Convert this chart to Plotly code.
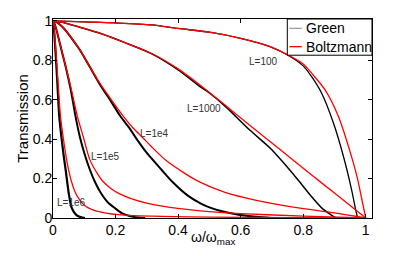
import plotly.graph_objects as go

# ---------------- data ----------------
w_green_100 = [0, 0.1, 0.2, 0.316, 0.4, 0.5, 0.6, 0.694, 0.758, 0.8, 0.827, 0.859, 0.897, 0.929, 0.955, 0.968, 0.974]
T_green_100 = [1, 0.995, 0.99, 0.98, 0.962, 0.943, 0.912, 0.870, 0.82, 0.772, 0.717, 0.633, 0.481, 0.311, 0.142, 0.04, 0.0]
w_boltz_100 = [0, 0.1, 0.2, 0.316, 0.4, 0.5, 0.6, 0.694, 0.758, 0.8, 0.827, 0.870, 0.913, 0.945, 0.972, 0.988, 1.0]
T_boltz_100 = [1, 0.995, 0.99, 0.98, 0.962, 0.943, 0.912, 0.870, 0.822, 0.782, 0.735, 0.65, 0.514, 0.362, 0.21, 0.091, 0.0]

w_green_1000 = [0, 0.03, 0.06, 0.1, 0.155, 0.23, 0.316, 0.4, 0.47, 0.502, 0.55, 0.63, 0.694, 0.74, 0.785, 0.827, 0.86, 0.89, 0.905]
T_green_1000 = [1, 0.993, 0.98, 0.962, 0.935, 0.89, 0.833, 0.752, 0.667, 0.632, 0.568, 0.445, 0.355, 0.275, 0.19, 0.108, 0.05, 0.015, 0.0]
w_boltz_1000 = [0, 0.03, 0.06, 0.1, 0.155, 0.23, 0.316, 0.4, 0.47, 0.55, 0.63, 0.72, 0.827, 0.9, 1.0]
T_boltz_1000 = [1, 0.993, 0.98, 0.962, 0.935, 0.89, 0.835, 0.757, 0.675, 0.573, 0.47, 0.355, 0.218, 0.127, 0.0]

w_green_1e4 = [0, 0.01, 0.02, 0.035, 0.049, 0.086, 0.118, 0.15, 0.1875, 0.214, 0.245, 0.27, 0.3, 0.347, 0.384, 0.43, 0.47, 0.5, 0.55, 0.598, 0.65, 0.7]
T_green_1e4 = [1, 0.996, 0.985, 0.962, 0.935, 0.853, 0.766, 0.678, 0.587, 0.52, 0.455, 0.395, 0.33, 0.245, 0.18, 0.115, 0.076, 0.054, 0.03, 0.015, 0.006, 0.0]
w_boltz_1e4 = [0, 0.01, 0.02, 0.035, 0.049, 0.086, 0.118, 0.15, 0.1875, 0.225, 0.256, 0.288, 0.316, 0.363, 0.42, 0.47, 0.55, 0.65, 0.79, 0.9, 1.0]
T_boltz_1e4 = [1, 0.996, 0.985, 0.962, 0.935, 0.853, 0.768, 0.683, 0.598, 0.516, 0.457, 0.406, 0.36, 0.29, 0.228, 0.182, 0.13, 0.09, 0.05, 0.026, 0.0]

w_green_1e5 = [0, 0.005, 0.011, 0.027, 0.043, 0.057, 0.072, 0.086, 0.1, 0.118, 0.135, 0.155, 0.175, 0.198, 0.22, 0.245, 0.27, 0.295]
T_green_1e5 = [1, 0.985, 0.955, 0.853, 0.751, 0.649, 0.516, 0.411, 0.33, 0.245, 0.18, 0.122, 0.08, 0.05, 0.025, 0.01, 0.003, 0.0]
w_boltz_1e5 = [0, 0.005, 0.012, 0.027, 0.043, 0.059, 0.078, 0.097, 0.118, 0.14, 0.16, 0.185, 0.21, 0.25, 0.3, 0.35, 0.42, 0.5, 0.6, 0.8, 1.0]
T_boltz_1e5 = [1, 0.985, 0.95, 0.855, 0.755, 0.65, 0.516, 0.411, 0.295, 0.23, 0.185, 0.15, 0.125, 0.098, 0.075, 0.06, 0.045, 0.032, 0.022, 0.01, 0.0]

w_green_1e6 = [0, 0.002, 0.004, 0.009, 0.014, 0.02, 0.027, 0.033, 0.04, 0.046, 0.052, 0.059, 0.067, 0.075, 0.085, 0.095, 0.102]
T_green_1e6 = [1, 0.98, 0.94, 0.82, 0.683, 0.516, 0.411, 0.33, 0.25, 0.175, 0.11, 0.055, 0.03, 0.015, 0.006, 0.002, 0.0]
w_boltz_1e6 = [0, 0.002, 0.005, 0.01, 0.016, 0.024, 0.033, 0.04, 0.049, 0.059, 0.07, 0.081, 0.095, 0.11, 0.134, 0.17, 0.209, 0.26, 0.347, 0.5, 0.75, 1.0]
T_boltz_1e6 = [1, 0.985, 0.94, 0.83, 0.69, 0.515, 0.405, 0.33, 0.25, 0.185, 0.135, 0.102, 0.073, 0.054, 0.037, 0.025, 0.017, 0.012, 0.008, 0.004, 0.002, 0.0]

curve_labels = ["L=100", "L=1000", "L=1e4", "L=1e5", "L=1e6"]
label_w = [0.673, 0.484, 0.325, 0.168, 0.06]
label_T = [0.793, 0.558, 0.43, 0.31, 0.081]

tick_vals = [0, 0.2, 0.4, 0.6, 0.8, 1]
tick_text = ["0", "0.2", "0.4", "0.6", "0.8", "1"]

legend_names = ["Green", "Boltzmann"]
x_title = "ω/ω<sub>max</sub>"
y_title = "Transmission"

# ---------------- figure ----------------
FONT = "Liberation Sans, Arial, Helvetica, sans-serif"
fig = go.Figure()

green_sets = [(w_green_100, T_green_100, 1.3), (w_green_1000, T_green_1000, 1.5),
              (w_green_1e4, T_green_1e4, 2.0), (w_green_1e5, T_green_1e5, 2.0),
              (w_green_1e6, T_green_1e6, 2.2)]
boltz_sets = [(w_boltz_100, T_boltz_100), (w_boltz_1000, T_boltz_1000),
              (w_boltz_1e4, T_boltz_1e4), (w_boltz_1e5, T_boltz_1e5),
              (w_boltz_1e6, T_boltz_1e6)]

for (w, T, lw), lab in zip(green_sets, curve_labels):
    fig.add_trace(go.Scatter(x=w, y=T, mode="lines", name=legend_names[0] + " " + lab,
                             line=dict(color="black", width=lw, shape="spline", smoothing=0.8),
                             showlegend=False, hoverinfo="skip"))
for (w, T), lab in zip(boltz_sets, curve_labels):
    fig.add_trace(go.Scatter(x=w, y=T, mode="lines", name=legend_names[1] + " " + lab,
                             line=dict(color="red", width=1.3, shape="spline", smoothing=0.8),
                             showlegend=False, hoverinfo="skip"))

for txt, xw, yt in zip(curve_labels, label_w, label_T):
    fig.add_annotation(x=xw, y=yt, xref="x", yref="y", text=txt, showarrow=False,
                       font=dict(family=FONT, size=10, color="#333333"),
                       xanchor="center", yanchor="middle")

# legend box (drawn manually to match the compact reference legend)
fig.add_shape(type="rect", xref="paper", yref="paper", x0=0.7345, x1=1.0, y0=0.818, y1=1.0,
              line=dict(color="black", width=1), fillcolor="white", layer="above")
leg_colors = ["#a0a0a0", "red"]
leg_y = [0.953, 0.861]
for name, col, yy in zip(legend_names, leg_colors, leg_y):
    fig.add_shape(type="line", xref="paper", yref="paper", x0=0.741, x1=0.780, y0=yy, y1=yy,
                  line=dict(color=col, width=1.3), layer="above")
    fig.add_annotation(xref="paper", yref="paper", x=0.786, y=yy, text=name, showarrow=False,
                       xanchor="left", yanchor="middle",
                       font=dict(family=FONT, size=14, color="black"))

# x-axis title placed as text just under the tick labels (as in the reference)
fig.add_annotation(xref="paper", yref="paper", x=0.5, y=-0.045, text=x_title, showarrow=False,
                   xanchor="center", yanchor="top",
                   font=dict(family=FONT, size=14, color="black"))

axis_common = dict(showgrid=False, zeroline=False, showline=True, linecolor="black",
                   linewidth=1, mirror="ticks", ticks="inside", ticklen=4,
                   tickcolor="black", tickfont=dict(family=FONT, size=14, color="black"),
                   tickvals=tick_vals, ticktext=tick_text)

fig.update_xaxes(range=[0, 1.02], ticklabelstandoff=-1, **axis_common)
fig.update_yaxes(range=[0, 1.01], ticklabelstandoff=-3,
                 title=dict(text=y_title, standoff=0,
                            font=dict(family=FONT, size=15, color="black")), **axis_common)

# the page body adds an 8px offset, so the figure is sized/margined to compensate
fig.update_layout(width=390, height=248, margin=dict(l=45, r=26, t=11, b=38, autoexpand=False),
                  paper_bgcolor="white", plot_bgcolor="white",
                  font=dict(family=FONT, size=14, color="black"), showlegend=False)

fig.write_html("out.html")
